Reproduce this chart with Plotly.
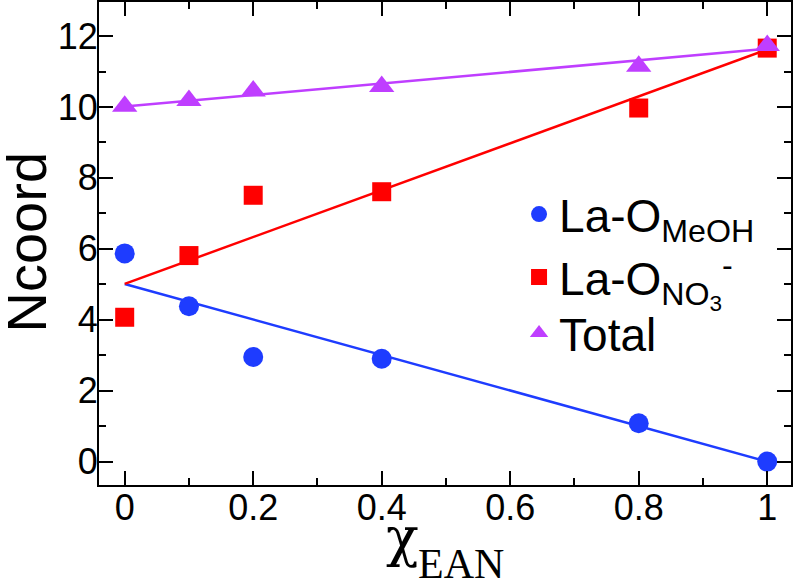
import plotly.graph_objects as go

# Data
x_ean = [0, 0.1, 0.2, 0.4, 0.8, 1.0]
la_o_meoh = [5.87, 4.38, 2.95, 2.90, 1.08, 0.0]
la_o_no3 = [4.07, 5.81, 7.51, 7.61, 9.97, 11.66]
total = [10.02, 10.18, 10.45, 10.58, 11.15, 11.73]

# Linear fit lines (end points at x = 0 and x = 1)
fit_x = [0, 1]
fit_meoh = [5.01, 0.0]
fit_no3 = [5.01, 11.62]
fit_total = [10.01, 11.64]

x_tickvals = [0, 0.2, 0.4, 0.6, 0.8, 1]
x_ticktext = ["0", "0.2", "0.4", "0.6", "0.8", "1"]
y_tickvals = [0, 2, 4, 6, 8, 10, 12]

BLUE = "#1e3cff"
RED = "#ff0000"
PURPLE = "#bf3eff"

fig = go.Figure()

# fit lines
fig.add_trace(go.Scatter(x=fit_x, y=fit_meoh, mode="lines",
                         line=dict(color=BLUE, width=2.5), showlegend=False, hoverinfo="skip"))
fig.add_trace(go.Scatter(x=fit_x, y=fit_no3, mode="lines",
                         line=dict(color=RED, width=2.5), showlegend=False, hoverinfo="skip"))
fig.add_trace(go.Scatter(x=fit_x, y=fit_total, mode="lines",
                         line=dict(color=PURPLE, width=2.5), showlegend=False, hoverinfo="skip"))

# markers
fig.add_trace(go.Scatter(x=x_ean, y=la_o_meoh, mode="markers", name="La-O<sub>MeOH</sub>",
                         marker=dict(symbol="circle", size=20, color=BLUE), legend="legend"))
fig.add_trace(go.Scatter(x=x_ean, y=la_o_no3, mode="markers",
                         name="La-O<sub>NO<sub>3</sub></sub><sup>-</sup>",
                         marker=dict(symbol="square", size=19, color=RED), legend="legend"))
fig.add_trace(go.Scatter(x=x_ean, y=total, mode="markers", name="Total",
                         marker=dict(symbol="triangle-up", size=22, color=PURPLE), legend="legend2"))

axis_common = dict(
    showline=True, linecolor="black", linewidth=2, mirror="allticks",
    ticks="inside", ticklen=14, tickwidth=1.5, tickcolor="black",
    showgrid=False, zeroline=False, automargin=False,
    tickfont=dict(family="Liberation Sans", size=36, color="black"),
)

fig.update_xaxes(
    range=[-0.04, 1.037], tickvals=x_tickvals, ticktext=x_ticktext,
    ticklabelstandoff=-10,
    minor=dict(dtick=0.1, tick0=0, ticks="inside", ticklen=7, tickwidth=1.5, tickcolor="black"),
    **axis_common,
)
fig.update_yaxes(
    range=[-0.66, 12.96], tickvals=y_tickvals,
    ticklabelstandoff=-8,
    minor=dict(dtick=1, tick0=0, ticks="inside", ticklen=7, tickwidth=1.5, tickcolor="black"),
    **axis_common,
)

# Axis titles as annotations
fig.add_annotation(text="Ncoord", xref="paper", yref="paper", x=0, y=0.5,
                   xanchor="center", yanchor="middle", xshift=-73, yshift=1, textangle=-90,
                   showarrow=False, font=dict(family="Liberation Sans", size=56, color="black"))
fig.add_annotation(text="χ", xref="paper", yref="paper", x=0, y=0,
                   xanchor="center", yanchor="middle", xshift=402 - 99, yshift=-52,
                   showarrow=False, font=dict(family="DejaVu Serif", size=54, color="black"))
fig.add_annotation(text="EAN", xref="paper", yref="paper", x=0, y=0,
                   xanchor="left", yanchor="middle", xshift=416 - 99, yshift=-79,
                   showarrow=False, font=dict(family="Liberation Serif", size=42, color="black"))

legend_font = dict(family="Liberation Sans", size=46, color="black")
fig.update_layout(
    width=793, height=582,
    margin=dict(l=99, r=2, t=2, b=97),
    paper_bgcolor="white", plot_bgcolor="white",
    legend=dict(x=0.607, y=0.4954, xanchor="left", yanchor="middle", font=legend_font,
                bgcolor="rgba(0,0,0,0)", itemsizing="trace"),
    legend2=dict(x=0.607, y=0.3147, xanchor="left", yanchor="middle", font=legend_font,
                 bgcolor="rgba(0,0,0,0)", itemsizing="trace"),
)

fig.write_html("out.html", config={"displayModeBar": False},
               post_script="document.body.style.margin='0px';")
